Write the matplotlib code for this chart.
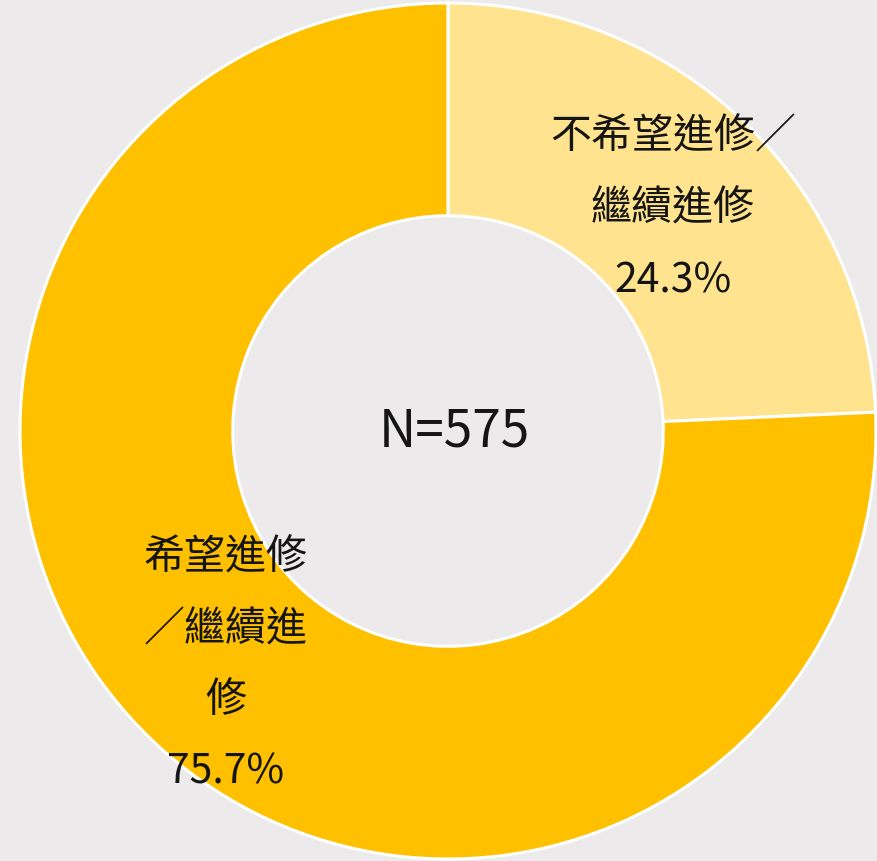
import matplotlib
matplotlib.use("Agg")
import matplotlib.pyplot as plt

plt.rcParams['font.family'] = ['Noto Sans CJK TC', 'DejaVu Sans']

# data
labels = ['不希望進修／繼續進修', '希望進修／繼續進修']
shares = [24.3, 75.7]
colors = ['#FFE38E', '#FFC000']
total_n = 575

W, H = 877, 862
fig = plt.figure(figsize=(W / 100, H / 100), dpi=100)
fig.patch.set_facecolor('#ECEAEA')
ax = fig.add_axes([0, 0, 1, 1])
ax.set_facecolor('#ECEAEA')

cx, cy, r = 448, H - 432, 428
ax.pie(shares, colors=colors, startangle=90, counterclock=False,
       center=(cx, cy), radius=r,
       wedgeprops=dict(width=r * 0.497, edgecolor='white', linewidth=2.2))
ax.set_xlim(0, W)
ax.set_ylim(0, H)
ax.set_aspect('equal')
ax.axis('off')

# labels, broken the same way as the original
right_lines = ['不希望進修／', '繼續進修', f'{shares[0]}%']
left_lines = ['希望進修', '／繼續進', '修', f'{shares[1]}%']

def put(lines, x, y0, step):
    for i, s in enumerate(lines):
        ax.text(x, H - (y0 + i * step), s, ha='center', va='center',
                fontsize=29.5, fontweight='light', color='#151515')

put(right_lines, 673, 137, 72)
put(left_lines, 226, 558, 71.5)

ax.text(454, H - 432, f'N={total_n}', ha='center', va='center',
        fontsize=37, fontweight='light', color='#151515')

fig.savefig('out.png', dpi=100, facecolor=fig.get_facecolor())
